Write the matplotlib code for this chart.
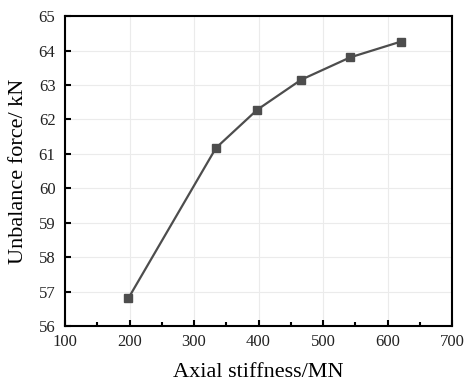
import matplotlib
matplotlib.use("Agg")
import matplotlib.pyplot as plt
from matplotlib.ticker import MultipleLocator

stiffness = [198, 334, 398, 466, 542, 621]
force = [56.8, 61.17, 62.28, 63.15, 63.8, 64.26]
x_ticks = [100, 200, 300, 400, 500, 600, 700]
y_ticks = [56, 57, 58, 59, 60, 61, 62, 63, 64, 65]

plt.rcParams['font.family'] = ['Liberation Serif', 'DejaVu Serif']

fig = plt.figure(figsize=(4.65, 3.83), dpi=100)
ax = fig.add_axes([0.14, 0.149, 0.832, 0.809])
ax.plot(stiffness, force, color='#4d4d4d', lw=1.6, marker='s', ms=6,
        markerfacecolor='#4d4d4d', markeredgecolor='#4d4d4d', zorder=3)
ax.set_xlim(100, 700)
ax.set_ylim(56, 65)
ax.set_xticks(x_ticks)
ax.set_yticks(y_ticks)
ax.xaxis.set_minor_locator(MultipleLocator(50))
ax.grid(True, color='#ebebeb', lw=0.8, zorder=0)
ax.tick_params(axis='both', which='both', direction='in', labelsize=12, width=1.5,
               labelcolor='#222222')
ax.tick_params(axis='both', which='major', length=4)
ax.tick_params(axis='x', which='major', pad=6)
ax.tick_params(axis='y', which='major', pad=7)
ax.tick_params(axis='x', which='minor', length=3)
ax.tick_params(axis='y', which='minor', left=False)
for s in ax.spines.values():
    s.set_linewidth(1.5)
ax.set_xlabel('Axial stiffness/MN', fontsize=16, labelpad=9)
ax.set_ylabel('Unbalance force/ kN', fontsize=16, labelpad=8)
fig.savefig('out.png', dpi=100)
